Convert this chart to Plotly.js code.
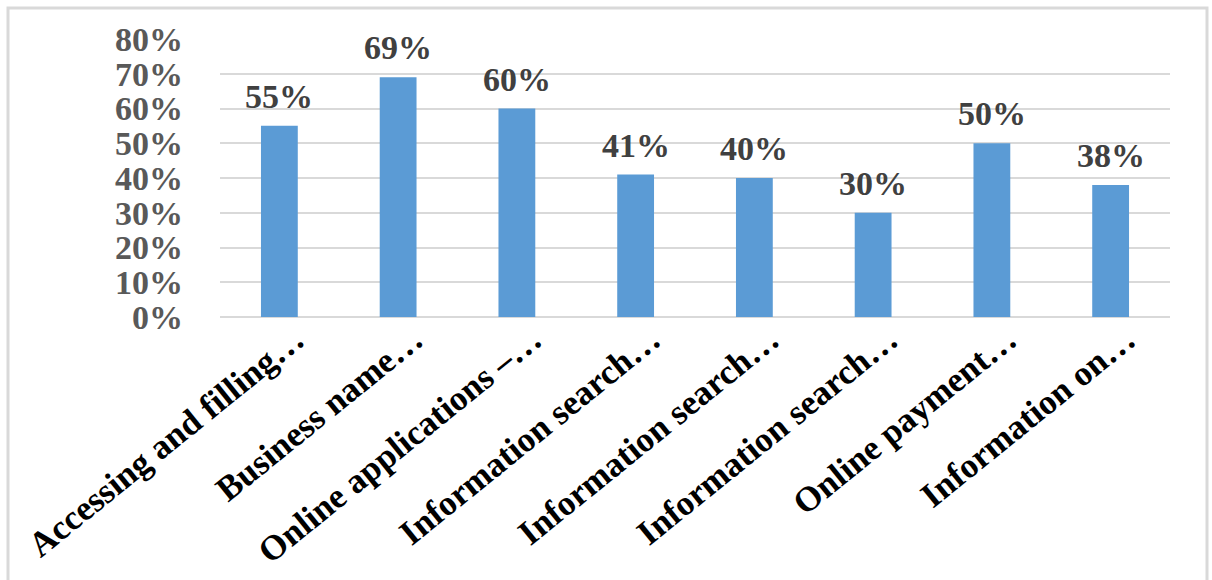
<!DOCTYPE html>
<html>
<head>
<meta charset="utf-8">
<script src="https://cdn.plot.ly/plotly-3.0.1.min.js"></script>
<style>
  html, body { margin: 0; padding: 0; background: #ffffff; overflow: hidden; }
  #chart { width: 1212px; height: 580px; }
</style>
</head>
<body>
<div id="chart"></div>
<script>
// Share of respondents using each e-service
const categories = [
  "Accessing and filling\u2026",
  "Business name\u2026",
  "Online applications \u2013\u2026",
  "Information search\u2026",
  "Information search\u2026",
  "Information search\u2026",
  "Online payment\u2026",
  "Information on\u2026"
];
const shares = [0.55, 0.69, 0.60, 0.41, 0.40, 0.30, 0.50, 0.38];
const yTickValues = [0, 0.1, 0.2, 0.3, 0.4, 0.5, 0.6, 0.7, 0.8];

// Categories repeat, so bars sit on index positions and carry text labels.
const positions = categories.map((_, i) => i);

const W = 1212, H = 580;
const margin = { l: 220, r: 42, t: 39, b: 263, pad: 0 };
const plotW = W - margin.l - margin.r;
const plotH = H - margin.t - margin.b;
const px2x = px => (px - margin.l) / plotW;
const px2y = py => 1 - (py - margin.t) / plotH;

const serif = "'Liberation Serif', 'Times New Roman', serif";

const trace = {
  type: "bar",
  x: positions,
  y: shares,
  width: 0.31,
  marker: { color: "#5B9BD5" },
  hoverinfo: "skip"
};

const labels = positions.map((p, i) => ({
  x: p,
  y: shares[i],
  xref: "x",
  yref: "y",
  text: Math.round(shares[i] * 100) + "%",
  showarrow: false,
  yanchor: "bottom",
  yshift: 9,
  font: { family: serif, size: 34, color: "#404040", weight: "bold" }
}));

const layout = {
  width: W,
  height: H,
  margin: margin,
  paper_bgcolor: "#ffffff",
  plot_bgcolor: "#ffffff",
  showlegend: false,
  xaxis: {
    range: [-0.5, categories.length - 0.5],
    tickmode: "array",
    tickvals: positions,
    ticktext: categories,
    tickangle: -39,
    ticks: "",
    ticklabelshift: 16,
    ticklabelstandoff: -6,
    showgrid: false,
    zeroline: false,
    showline: false,
    fixedrange: true,
    tickfont: { family: serif, size: 35, color: "#000000", weight: "bold" }
  },
  yaxis: {
    range: [0, 0.8],
    tickmode: "array",
    tickvals: yTickValues,
    tickformat: ".0%",
    ticks: "",
    ticklabelstandoff: 36,
    showgrid: true,
    gridcolor: "#d9d9d9",
    gridwidth: 2,
    zeroline: true,
    zerolinecolor: "#d9d9d9",
    zerolinewidth: 2,
    showline: false,
    fixedrange: true,
    tickfont: { family: serif, size: 34, color: "#595959", weight: "bold" }
  },
  annotations: labels,
  shapes: [{
    type: "rect",
    xref: "paper",
    yref: "paper",
    x0: px2x(8),
    x1: px2x(1207),
    y0: px2y(8),
    y1: px2y(640),
    line: { color: "#d9d9d9", width: 3 },
    fillcolor: "rgba(0,0,0,0)",
    layer: "below"
  }]
};

Plotly.newPlot("chart", [trace], layout, { displayModeBar: false, staticPlot: true });
</script>
</body>
</html>
